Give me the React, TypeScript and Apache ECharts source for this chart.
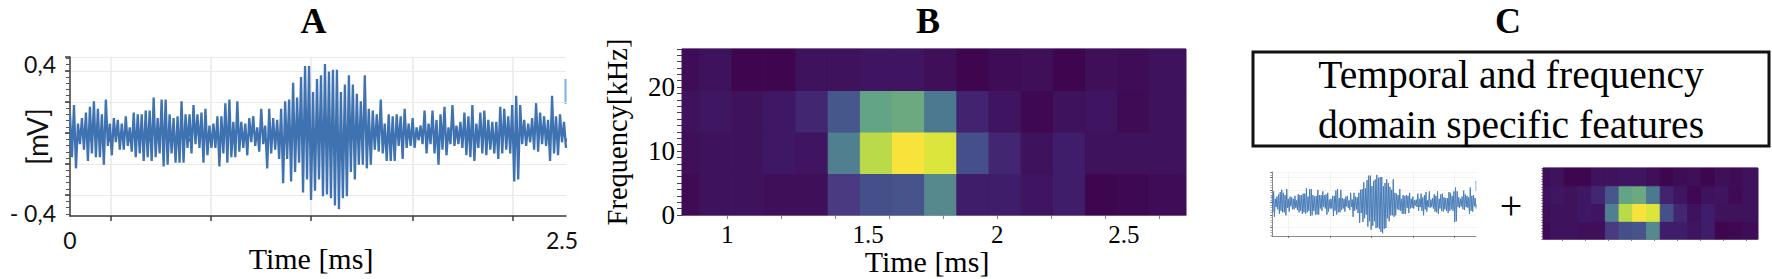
import React, { useEffect, useRef } from "react";
import * as echarts from "echarts";

// Signal trace, in hundredths of a mV (alternating crest / trough)
const traceStart = [13,-10,18,-16,8,-3,11,-6,14,-12,17,-8,20,-10,16,-10,13,-14,21,-4,8,-9,11,-2,10,-6,8,-6,12,-4,6,-7,14,-10,13,-8,13,-12,15,-10,15,-12,22,-10,11,-8,21,-15];
const traceEarly = [21,-14,13,-8,11,-13,12,-13,20,-13,13,-5,13,-8,18,-3,13,-5,14,-13,16,-9,7,-5,8,-5,12,-15,12,-8,19,-13,21,-10,9,-10,20,-7,9,-5,8,-9,11,-2,12,-4,6,-7,16,-3,7,-16,16,-8,11,-6];
const traceBurst = [10,-11,16,-24,20,-11,21,-23,30,-18,22,-13,33,-29,39,-22,39,-33,25,-28,32,-22,34,-31,40,-30,36,-32,37,-36,37,-38,25,-32,29,-31,34,-18,29,-22,24,-14,20,-14,34,-16,16,-14,15,-6,13,-7,21,-8,8,-12,13,-12];
const traceLate = [12,-12,13,-4,12,-11,16,-5,8,-4,11,-5,6,-1,7,-3,15,-8,8,-3,15,-8,10,-14,13,-6,17,-9,6,-3,18,-4,7,-3,9,-5,14,-9,12,-10,18,-12,8,-5,14,-8,15,-9,10,-6,9,-8,9,-11,17,-8,16,-6];
const traceEnd = [12,-8,18,-23,23,-22,18,-3,10,-4,8,-2,11,-6,19,-7,14,-3,12,-4,10,-12,23,-8,12,-9,13,-2,9,-5];

const traceMv = [...traceStart, ...traceEarly, ...traceBurst, ...traceLate, ...traceEnd].map((v) => v / 100);
const traceSpanMs = 2.5;

// Spectrogram intensity (0..1), one list per frequency band, bottom to top
const bandLow = [0.02,0.05,0.05,0.04,0.04,0.2,0.3,0.31,0.5,0.1,0.1,0.06,0.1,0,0.01,0.03,0.03];
const bandMid = [0.04,0.05,0.05,0.08,0.06,0.45,0.82,1,0.9,0.3,0.13,0.05,0.1,0.05,0.05,0.05,0.05];
const bandHigh = [0.05,0.07,0.05,0.08,0.13,0.32,0.6,0.62,0.42,0.12,0.06,0.01,0.05,0.06,0.02,0.05,0.05];
const bandTop = [0.03,0.05,0,0,0.05,0.05,0.06,0.06,0.04,0,0.03,0.04,0,0.04,0.03,0.05,0.05];
const bands = [bandLow, bandMid, bandHigh, bandTop];
const cellStartMs = 0.779;
const cellWidthMs = 0.119;
const bandWidthKHz = 6.485;

const heatColors = ["#3f0650","#3f1d6a","#4a3a82","#45508a","#4a7590","#55898e","#64a486","#8abe6a","#b2d74c","#dce53b","#f8e33b"];

// Axis marks
const waveGridX = [0.205, 0.71, 1.215, 1.726, 2.231];
const waveGridY = [-0.304, -0.137, 0.03, 0.196, 0.363, 0.438];
const waveMinorY = [-0.404,-0.371,-0.337,-0.304,-0.271,-0.237,-0.204,-0.171,-0.137,-0.104,-0.071,-0.037,-0.004,0.03,0.063,0.097,0.13,0.163,0.196,0.23,0.263,0.297,0.33,0.363,0.397,0.43];
const waveLabelsY = [-0.4, 0.4];
const waveLabelsX = [0, 2.48];
const specTicksX = [1, 1.2, 1.4, 1.6, 1.8, 2, 2.2, 2.4, 2.6];
const specLabelsX = [1, 1.522, 2, 2.468];
const specLabelsY = [0, 10, 20];
const titles = ["A", "B", "C"];
const boxLines = ["Temporal and frequency", "domain specific features"];

const SERIF = "'Liberation Serif', serif";
const heatData = bands.flatMap((row, b) =>
  row.map((v, c) => [
    cellStartMs + c * cellWidthMs,
    cellStartMs + (c + 1) * cellWidthMs,
    b * bandWidthKHz,
    (b + 1) * bandWidthKHz,
    v,
  ])
);

function renderCell(params: any, api: any) {
  const a = api.coord([api.value(0), api.value(3)]);
  const b = api.coord([api.value(1), api.value(2)]);
  const shape = echarts.graphic.clipRectByRect(
    { x: a[0], y: a[1], width: b[0] - a[0], height: b[1] - a[1] },
    params.coordSys
  );
  if (!shape) return null;
  const fill = api.visual("color");
  return { type: "rect", shape, style: { fill, stroke: fill, lineWidth: 1 } };
}

function App() {
  const ref = useRef<HTMLDivElement>(null);
  useEffect(() => {
    const chart = echarts.init(ref.current!, null, { renderer: "svg" });
    const gridLine = (w: number) => ({ show: true, lineStyle: { color: "#e9e9e9", width: w } });
    const off = { show: false };
    const dark = "#3a3a3a";

    const waveXMain = (g: number, big: boolean) => ({
      type: "value", gridIndex: g, min: 0, max: traceSpanMs, position: "bottom",
      axisLine: { show: true, onZero: false, lineStyle: { color: dark, width: big ? 1.5 : 0.6 } },
      axisTick: { show: true, customValues: waveGridX, length: big ? 5 : 2, lineStyle: { color: dark, width: big ? 1.5 : 0.6 } },
      axisLabel: big
        ? { show: true, customValues: waveLabelsX, fontFamily: "Lato", fontSize: 23, color: "#111", margin: 12, hideOverlap: false, formatter: (v: number) => String(Math.round(v * 2) / 2) }
        : off,
      splitLine: gridLine(big ? 1.5 : 0.6),
      ...(big ? { name: "Time [ms]", nameLocation: "middle", nameGap: 27, nameMoveOverlap: false, nameTextStyle: { fontFamily: SERIF, fontSize: 30, color: "#000", padding: [0, 14, 0, 0] } } : {}),
    });
    const waveXMinor = (g: number, big: boolean) => ({
      type: "value", gridIndex: g, min: 0, max: traceSpanMs, interval: 0.1, position: "bottom",
      axisLine: off, axisLabel: off, splitLine: off,
      axisTick: { show: true, length: big ? 3 : 1.5, lineStyle: { color: "#555", width: big ? 1 : 0.5 } },
    });
    const waveYMain = (g: number, big: boolean) => ({
      type: "value", gridIndex: g, min: -0.416, max: 0.438, position: "left",
      axisLine: { show: true, onZero: false, lineStyle: { color: dark, width: big ? 1.5 : 0.6 } },
      axisTick: { show: true, customValues: waveGridY, length: big ? 5 : 2, lineStyle: { color: dark, width: big ? 1.5 : 0.6 } },
      axisLabel: big
        ? { show: true, customValues: waveLabelsY, fontFamily: "Lato", fontSize: 23, color: "#111", margin: 14, formatter: (v: number) => (v > 0 ? "0,4" : "- 0,4") }
        : off,
      splitLine: gridLine(big ? 1 : 0.5),
      ...(big ? { name: "[mV]", nameLocation: "middle", nameGap: 19, nameMoveOverlap: false, nameTextStyle: { fontFamily: "Lato", fontSize: 28, color: "#111" } } : {}),
    });
    const waveYMinor = (g: number, big: boolean) => ({
      type: "value", gridIndex: g, min: -0.416, max: 0.438, position: "left",
      axisLine: off, axisLabel: off, splitLine: off,
      axisTick: { show: true, customValues: waveMinorY, length: big ? 4 : 1.5, lineStyle: { color: "#555", width: big ? 1 : 0.5 } },
    });
    const specX = (g: number, big: boolean) => ({
      type: "value", gridIndex: g, min: 0.833, max: 2.698, position: "bottom",
      axisLine: { show: true, onZero: false, lineStyle: { color: "#8a8096", width: big ? 1.5 : 1 } },
      axisTick: { show: true, customValues: specTicksX, length: big ? 4 : 2, lineStyle: { color: "#888", width: 1 } },
      axisLabel: big
        ? { show: true, customValues: specLabelsX, fontFamily: SERIF, fontSize: 25, color: "#000", margin: 7, formatter: (v: number) => String(Math.round(v * 2) / 2) }
        : off,
      splitLine: off,
      ...(big ? { name: "Time [ms]", nameLocation: "middle", nameGap: 31, nameMoveOverlap: false, nameTextStyle: { fontFamily: SERIF, fontSize: 30, color: "#000", padding: [0, 14, 0, 0] } } : {}),
    });
    const specY = (g: number, big: boolean) => ({
      type: "value", gridIndex: g, min: 0, max: bandWidthKHz * 4, interval: 1, position: "left",
      axisLine: off, splitLine: off,
      axisTick: { show: true, length: big ? 5 : 2, lineStyle: { color: "#444", width: big ? 1 : 0.5 } },
      axisLabel: big
        ? { show: true, customValues: specLabelsY, fontFamily: SERIF, fontSize: 27, color: "#000", margin: 7 }
        : off,
      ...(big ? { name: "Frequency[kHz]", nameLocation: "middle", nameGap: 50, nameMoveOverlap: false, nameTextStyle: { fontFamily: SERIF, fontSize: 28.5, color: "#000" } } : {}),
    });

    const tracePoints = traceMv.map((v, i) => [(i * traceSpanMs) / (traceMv.length - 1), v]);
    const bounds = { outerBoundsMode: "none", containLabel: false };

    chart.setOption({
      animation: false,
      backgroundColor: "#fff",
      title: [313.5, 928, 1508].map((x, i) => ({
        text: titles[i], left: x, top: 3, textAlign: "center", padding: 0,
        textStyle: { fontFamily: SERIF, fontWeight: "bold", fontSize: 36, color: "#000" },
      })),
      grid: [
        { left: 70, top: 57, width: 496, height: 159, ...bounds },
        { left: 682, top: 49, width: 504, height: 166, ...bounds },
        { left: 1272, top: 172, width: 204, height: 64, ...bounds },
        { left: 1543, top: 168, width: 215, height: 71, ...bounds },
      ],
      xAxis: [waveXMain(0, true), waveXMinor(0, true), specX(1, true), waveXMain(2, false), waveXMinor(2, false), specX(3, false)],
      yAxis: [waveYMain(0, true), waveYMinor(0, true), specY(1, true), waveYMain(2, false), waveYMinor(2, false), specY(3, false)],
      visualMap: {
        show: false, type: "continuous", min: 0, max: 1, dimension: 4, seriesIndex: [1, 3],
        inRange: { color: heatColors },
      },
      series: [
        { type: "line", xAxisIndex: 0, yAxisIndex: 0, data: tracePoints, showSymbol: false, symbol: "none", lineStyle: { color: "#3f72b0", width: 2.3 } },
        { type: "custom", xAxisIndex: 2, yAxisIndex: 2, data: heatData, renderItem: renderCell, encode: { x: [0, 1], y: [2, 3] } },
        { type: "line", xAxisIndex: 3, yAxisIndex: 3, data: tracePoints, showSymbol: false, symbol: "none", lineStyle: { color: "#4a7db8", width: 1 } },
        { type: "custom", xAxisIndex: 5, yAxisIndex: 5, data: heatData, renderItem: renderCell, encode: { x: [0, 1], y: [2, 3] } },
      ],
      graphic: [
        { type: "rect", shape: { x: 1253, y: 52, width: 516, height: 94 }, style: { fill: "#fff", stroke: "#111", lineWidth: 3 } },
        { type: "text", x: 1511, y: 75, style: { text: boxLines[0], fontFamily: SERIF, fontSize: 39.5, fill: "#000", align: "center", verticalAlign: "middle" } },
        { type: "text", x: 1511, y: 125, style: { text: boxLines[1], fontFamily: SERIF, fontSize: 39.5, fill: "#000", align: "center", verticalAlign: "middle" } },
        { type: "text", x: 1511, y: 205, style: { text: "+", fontFamily: SERIF, fontSize: 40, fill: "#000", align: "center", verticalAlign: "middle" } },
        { type: "rect", shape: { x: 564.5, y: 79, width: 2, height: 25 }, style: { fill: "#72b6e4" } },
        { type: "rect", shape: { x: 1475, y: 181, width: 1.5, height: 10 }, style: { fill: "#a9d0ea" } },
        { type: "line", shape: { x1: 682, y1: 49, x2: 1186, y2: 49 }, style: { stroke: "#8f83a6", lineWidth: 1 } },
        { type: "line", shape: { x1: 1543, y1: 168, x2: 1758, y2: 168 }, style: { stroke: "#8f83a6", lineWidth: 0.8 } },
      ],
    });
    return () => chart.dispose();
  }, []);
  return <div ref={ref} style={{ position: "absolute", left: 0, top: 0, width: 1772, height: 279 }} />;
}

export default App;
